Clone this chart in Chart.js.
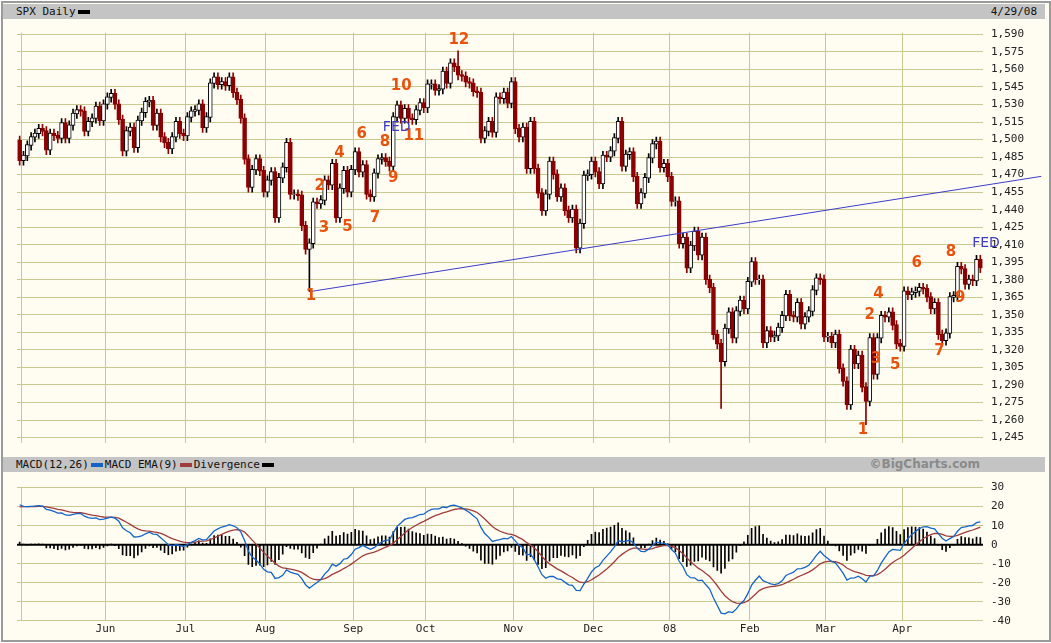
<!DOCTYPE html>
<html>
<head>
<meta charset="utf-8">
<script src="https://cdn.jsdelivr.net/npm/chart.js@4"></script>
<style>
  body { margin: 0; background: #fff; font-family: 'DejaVu Sans Mono', monospace; }
  #frame { position: absolute; left: 1px; top: 1px; width: 1046px; height: 637px; border: 2px solid #9a9a9a; background: #fffdf2; }
  .bar { position: absolute; left: 3px; width: 1042px; height: 15px; background: #c4c4c4; font-size: 11px; line-height: 15px; color: #111; }
  .key { display: inline-block; width: 12px; height: 4px; vertical-align: middle; margin: 0 2px; }
  canvas { position: absolute; left: 0; }
</style>
</head>
<body>
<div id="frame"></div>
<div class="bar" style="top:4px"><span style="margin-left:13px">SPX Daily</span><span class="key" style="background:#000"></span><span style="position:absolute;right:8px">4/29/08</span></div>
<div class="bar" style="top:457px"><span style="margin-left:13px">MACD(12,26)</span><span class="key" style="background:#1464c8"></span>MACD EMA(9)<span class="key" style="background:#a03c3c"></span>Divergence<span class="key" style="background:#000"></span><span style="position:absolute;right:65px;font-family:Verdana,'DejaVu Sans';font-weight:bold;color:#8a8a8a;font-size:12px">©BigCharts.com</span></div>
<canvas id="price" width="1051" height="440" style="top:18px"></canvas>
<canvas id="macd" width="1051" height="167" style="top:473px"></canvas>
<script>
// closes before the visible range, only used to seed the MACD averages
const pre07 = [1386,1402,1406,1417,1409,1410,1437,1428,1418,1421,1424,1437,1445,1443,1448,1438,1447,1444,1468,1471,1472,1470,1484,1480,1480,1495,1494,1499];
const apr07 = [1482];
const may07 = [1486,1495,1502,1505,1509,1507,1491,1505,1503,1501,1514,1501,1512,1522,1525,1524,1507,1515,1518,1528,1516,1530];
const jun07 = [1536,1539,1530,1517,1490,1507,1510,1493,1516,1523,1532,1533,1512,1522,1502,1497,1492,1502,1515,1505,1503];
const jul07 = [1519,1524,1525,1530,1510,1519,1548,1553,1547,1549,1546,1553,1540,1534,1518,1483,1459,1474,1483,1473,1455];
const aug07 = [1465,1472,1433,1467,1476,1497,1453,1453,1452,1426,1406,1411,1446,1445,1448,1465,1461,1479,1433,1458,1473,1455,1474];
const sep07 = [1489,1472,1478,1453,1451,1471,1483,1484,1481,1477,1519,1529,1518,1526,1518,1517,1525,1531,1527];
const oct07 = [1547,1547,1542,1543,1558,1548,1565,1562,1555,1554,1549,1548,1541,1540,1501,1507,1515,1506,1536,1535,1540,1531,1549];
const nov07 = [1509,1502,1510,1475,1515,1475,1454,1439,1453,1481,1470,1451,1458,1439,1433,1440,1407,1428,1469,1470,1481];
const dec07 = [1472,1462,1486,1485,1490,1501,1515,1477,1487,1489,1468,1445,1454,1467,1484,1496,1498,1476,1479,1468];
const jan08 = [1447,1447,1411,1416,1390,1409,1421,1401,1416,1380,1373,1333,1325,1310,1338,1352,1330,1353,1362,1355,1378];
const feb08 = [1395,1380,1380,1326,1336,1331,1332,1339,1349,1367,1349,1348,1360,1342,1348,1353,1371,1381,1380,1331];
const mar08 = [1331,1326,1333,1304,1293,1273,1320,1308,1315,1288,1276,1330,1299,1330,1349,1348,1352,1341,1325,1323];
const apr08 = [1370,1367,1369,1370,1373,1372,1365,1355,1360,1333,1328,1334,1365,1366,1391,1389,1376,1380,1379,1397,1390];

// intraday extremes that stick out from the bodies
const lowSpikes = { 76: 1370, 184: 1270, 222: 1256 };
const highSpikes = { 115: 1576 };

// month start positions (trading day index) and labels
const monthStarts = [1, 23, 44, 65, 88, 107, 130, 151, 171, 192, 212, 232];
const monthLabels = ['', 'Jun', 'Jul', 'Aug', 'Sep', 'Oct', 'Nov', 'Dec', '08', 'Feb', 'Mar', 'Apr'];

const priceTicks = [1245,1260,1275,1290,1305,1320,1335,1350,1365,1380,1395,1410,1425,1440,1455,1470,1485,1500,1515,1530,1545,1560,1575,1590];
const macdTicks = [-40,-30,-20,-10,0,10,20,30];

// wave counts and notes: [day index, price, text]
const waveMarks = [
  [76.4,1366,'1'],[78.7,1460,'2'],[79.8,1424,'3'],[83.9,1488,'4'],[86,1425,'5'],
  [89.7,1505,'6'],[93.2,1433,'7'],[95.8,1498,'8'],[98,1467,'9'],[100.1,1546,'10'],[103.4,1503,'11'],[115.2,1585,'12'],
  [221.2,1251,'1'],[223,1350,'2'],[224.6,1312,'3'],[225.3,1368,'4'],[229.7,1307,'5'],
  [235.3,1394,'6'],[241.3,1319,'7'],[244.3,1404,'8'],[246.7,1364,'9']
];
const fedMarks = [[98.9,1510],[253.5,1411]];
const trendLine = [[76.4,1370],[268,1468.5]];

const closes = [].concat(apr07, may07, jun07, jul07, aug07, sep07, oct07, nov07, dec07, jan08, feb08, mar08, apr08);

const wicks = [], bodies = [], bodyColors = [], wickColors = [];
closes.forEach(function(c, i) {
    const o = i ? closes[i - 1] : pre07[pre07.length - 1];
    const hi = highSpikes[i] || Math.max(o, c) + 4;
    const lo = lowSpikes[i] || Math.min(o, c) - 4;
    const down = c < o;
    wicks.push({ x: i, y: [lo, hi] });
    bodies.push({ x: i, y: [Math.min(o, c), Math.max(o, c) + 0.6] });
    bodyColors.push(down ? '#8b0000' : '#ffffff');
    wickColors.push(down ? '#8b0000' : '#000000');
});

function ema(arr, n) {
    const k = 2 / (n + 1);
    let e = arr[0];
    return arr.map(function(v) { e = v * k + e * (1 - k); return e; });
}
const all = pre07.concat(closes);
const e12 = ema(all, 12), e26 = ema(all, 26);
const macdAll = e12.map(function(v, i) { return v - e26[i]; });
const sigAll = ema(macdAll, 9);
const off = pre07.length;
const divScale = 1.3; // BigCharts draws the histogram slightly exaggerated
const macdLine = closes.map(function(_, i) { return { x: i, y: macdAll[i + off] }; });
const sigLine = closes.map(function(_, i) { return { x: i, y: sigAll[i + off] }; });
const divBars = closes.map(function(_, i) { return { x: i, y: [0, (macdAll[i + off] - sigAll[i + off]) * divScale] }; });

const gridColor = '#c9c98f';
const tickFont = { family: "'DejaVu Sans Mono', monospace", size: 11 };
const xMin = -0.7, xMax = 252.7;

function xScale(showLabels) {
    return {
        type: 'linear', min: xMin, max: xMax, offset: false,
        afterBuildTicks: function(s) { s.ticks = monthStarts.map(function(v) { return { value: v - 0.5 }; }); },
        ticks: {
            display: showLabels, color: '#222', font: tickFont, maxRotation: 0, autoSkip: false, padding: 2,
            callback: function(v) { const k = monthStarts.indexOf(v + 0.5); return k >= 0 ? monthLabels[k] : ''; }
        },
        grid: { color: gridColor, drawTicks: false, offset: false },
        border: { display: false }
    };
}
function yScale(min, max, ticks, fmt) {
    return {
        position: 'right', min: min, max: max,
        afterBuildTicks: function(s) { s.ticks = ticks.map(function(v) { return { value: v }; }); },
        afterFit: function(s) { s.width = 65; },
        ticks: { color: '#222', font: tickFont, padding: 8, callback: fmt },
        grid: { color: gridColor, drawTicks: false },
        border: { display: false }
    };
}

const markPlugin = {
    id: 'marks',
    afterDatasetsDraw: function(chart) {
        const ctx = chart.ctx, xs = chart.scales.x, ys = chart.scales.y;
        ctx.save();
        ctx.strokeStyle = '#3c3cc8';
        ctx.lineWidth = 1;
        ctx.beginPath();
        ctx.moveTo(xs.getPixelForValue(trendLine[0][0]), ys.getPixelForValue(trendLine[0][1]));
        ctx.lineTo(xs.getPixelForValue(trendLine[1][0]), ys.getPixelForValue(trendLine[1][1]));
        ctx.stroke();
        ctx.textAlign = 'center';
        ctx.textBaseline = 'middle';
        ctx.font = "bold 15px 'DejaVu Sans', sans-serif";
        ctx.fillStyle = '#e8520c';
        waveMarks.forEach(function(m) {
            ctx.fillText(m[2], xs.getPixelForValue(m[0]), ys.getPixelForValue(m[1]));
        });
        ctx.font = "14px 'DejaVu Sans', sans-serif";
        ctx.fillStyle = '#3c3cc8';
        fedMarks.forEach(function(m) {
            ctx.fillText('FED', xs.getPixelForValue(m[0]), ys.getPixelForValue(m[1]));
        });
        ctx.restore();
    }
};

new Chart(document.getElementById('price'), {
    type: 'bar',
    data: {
        datasets: [
            { data: wicks, backgroundColor: wickColors, barThickness: 1, grouped: false, order: 2 },
            { data: bodies, backgroundColor: bodyColors, borderColor: wickColors, borderWidth: 1, borderSkipped: false, barThickness: 4, grouped: false, order: 1 }
        ]
    },
    options: {
        responsive: false, animation: false,
        layout: { padding: { left: 17, right: 3, top: 8, bottom: 5 } },
        plugins: { legend: { display: false }, tooltip: { enabled: false } },
        scales: {
            x: xScale(false),
            y: yScale(1240, 1591.5, priceTicks, function(v) { return v.toLocaleString('en-US'); })
        }
    },
    plugins: [markPlugin]
});

new Chart(document.getElementById('macd'), {
    type: 'bar',
    data: {
        datasets: [
            { type: 'line', data: macdLine, borderColor: '#1464c8', borderWidth: 1.3, pointRadius: 0, order: 1 },
            { type: 'line', data: sigLine, borderColor: '#a03c3c', borderWidth: 1.3, pointRadius: 0, order: 2 },
            { data: divBars, backgroundColor: '#000', barThickness: 1, grouped: false, order: 3 }
        ]
    },
    options: {
        responsive: false, animation: false,
        layout: { padding: { left: 17, right: 3, top: 4, bottom: 2 } },
        plugins: { legend: { display: false }, tooltip: { enabled: false } },
        scales: {
            x: xScale(true),
            y: yScale(-40, 30, macdTicks, function(v) { return v; })
        }
    },
    plugins: [{
        id: 'zero',
        beforeDatasetsDraw: function(chart) {
            const ctx = chart.ctx, a = chart.chartArea, y = chart.scales.y.getPixelForValue(0);
            ctx.save();
            ctx.strokeStyle = '#000';
            ctx.lineWidth = 2;
            ctx.beginPath(); ctx.moveTo(a.left, y); ctx.lineTo(a.right, y); ctx.stroke();
            ctx.restore();
        }
    }]
});
</script>
</body>
</html>
